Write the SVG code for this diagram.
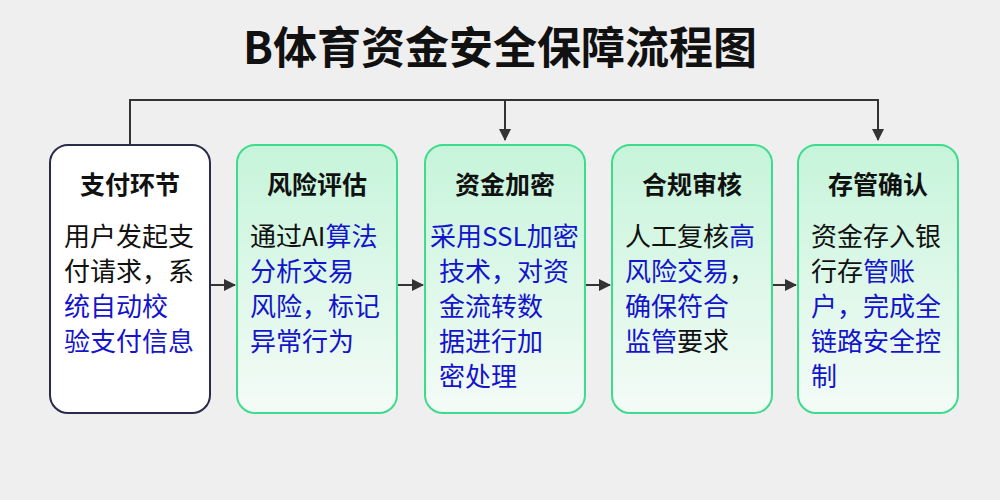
<svg xmlns="http://www.w3.org/2000/svg" width="1000" height="500" viewBox="0 0 1000 500">
<defs>
<linearGradient id="g" x1="0" y1="0" x2="0" y2="1"><stop offset="0" stop-color="#c6f4da"/><stop offset="1" stop-color="#f4fbf7"/></linearGradient>
<marker id="a" markerWidth="12" markerHeight="12" refX="11" refY="6" orient="auto" markerUnits="userSpaceOnUse"><path d="M0,0 L12,6 L0,12 Z" fill="#333"/></marker>
<style>
text{font-family:"Noto Sans CJK SC","Noto Sans",sans-serif}
.t{font-size:44px;font-weight:bold;fill:#111}
.h{font-size:25px;font-weight:bold;fill:#111;text-anchor:middle}
.b{font-size:26px;fill:#111}
.u{fill:#1414cc}
.w{fill:#fff;stroke:#2a2a4a;stroke-width:2}
.gr{fill:url(#g);stroke:#3ddc8c;stroke-width:2}
.c{stroke:#333;stroke-width:2;fill:none}
</style>
</defs>
<rect width="1000" height="500" fill="#efefef"/>
<text class="t" x="500" y="64" text-anchor="middle">B体育资金安全保障流程图</text>
<g id="connectors">
<path class="c" d="M130,145 V100 H878 V140" marker-end="url(#a)"/>
<path class="c" d="M505,100 V140" marker-end="url(#a)"/>
<path class="c" d="M211,285 H235" marker-end="url(#a)"/>
<path class="c" d="M398,285 H423" marker-end="url(#a)"/>
<path class="c" d="M586,285 H610" marker-end="url(#a)"/>
<path class="c" d="M773,285 H796" marker-end="url(#a)"/>
</g>
<g id="n1"><rect class="w" x="50" y="145" width="160" height="268" rx="18"/>
<text class="h" x="130" y="194">支付环节</text>
<text class="b" x="64" y="246">用户发起支</text>
<text class="b" x="64" y="281">付请求，系</text>
<text class="b u" x="64" y="316">统自动校</text>
<text class="b u" x="64" y="351">验支付信息</text></g>
<g id="n2"><rect class="gr" x="237" y="145" width="160" height="268" rx="18"/>
<text class="h" x="317" y="194">风险评估</text>
<text class="b" x="250" y="246">通过AI<tspan class="u">算法</tspan></text>
<text class="b u" x="250" y="281">分析交易</text>
<text class="b u" x="250" y="316">风险，标记</text>
<text class="b u" x="250" y="351">异常行为</text></g>
<g id="n3"><rect class="gr" x="425" y="145" width="160" height="268" rx="18"/>
<text class="h" x="505" y="194">资金加密</text>
<text class="b u" x="430" y="246">采用SSL加密</text>
<text class="b u" x="439" y="281">技术，对资</text>
<text class="b u" x="439" y="316">金流转数</text>
<text class="b u" x="439" y="351">据进行加</text>
<text class="b u" x="439" y="386">密处理</text></g>
<g id="n4"><rect class="gr" x="612" y="145" width="160" height="268" rx="18"/>
<text class="h" x="692" y="194">合规审核</text>
<text class="b" x="625" y="246">人工复核<tspan class="u">高</tspan></text>
<text class="b" x="625" y="281"><tspan class="u">风险交易</tspan>，</text>
<text class="b u" x="625" y="316">确保符合</text>
<text class="b" x="625" y="351"><tspan class="u">监管</tspan>要求</text></g>
<g id="n5"><rect class="gr" x="798" y="145" width="160" height="268" rx="18"/>
<text class="h" x="878" y="194">存管确认</text>
<text class="b" x="811" y="246">资金存入银</text>
<text class="b" x="811" y="281">行存<tspan class="u">管账</tspan></text>
<text class="b u" x="811" y="316">户，完成全</text>
<text class="b u" x="811" y="351">链路安全控</text>
<text class="b u" x="811" y="386">制</text></g>
</svg>
